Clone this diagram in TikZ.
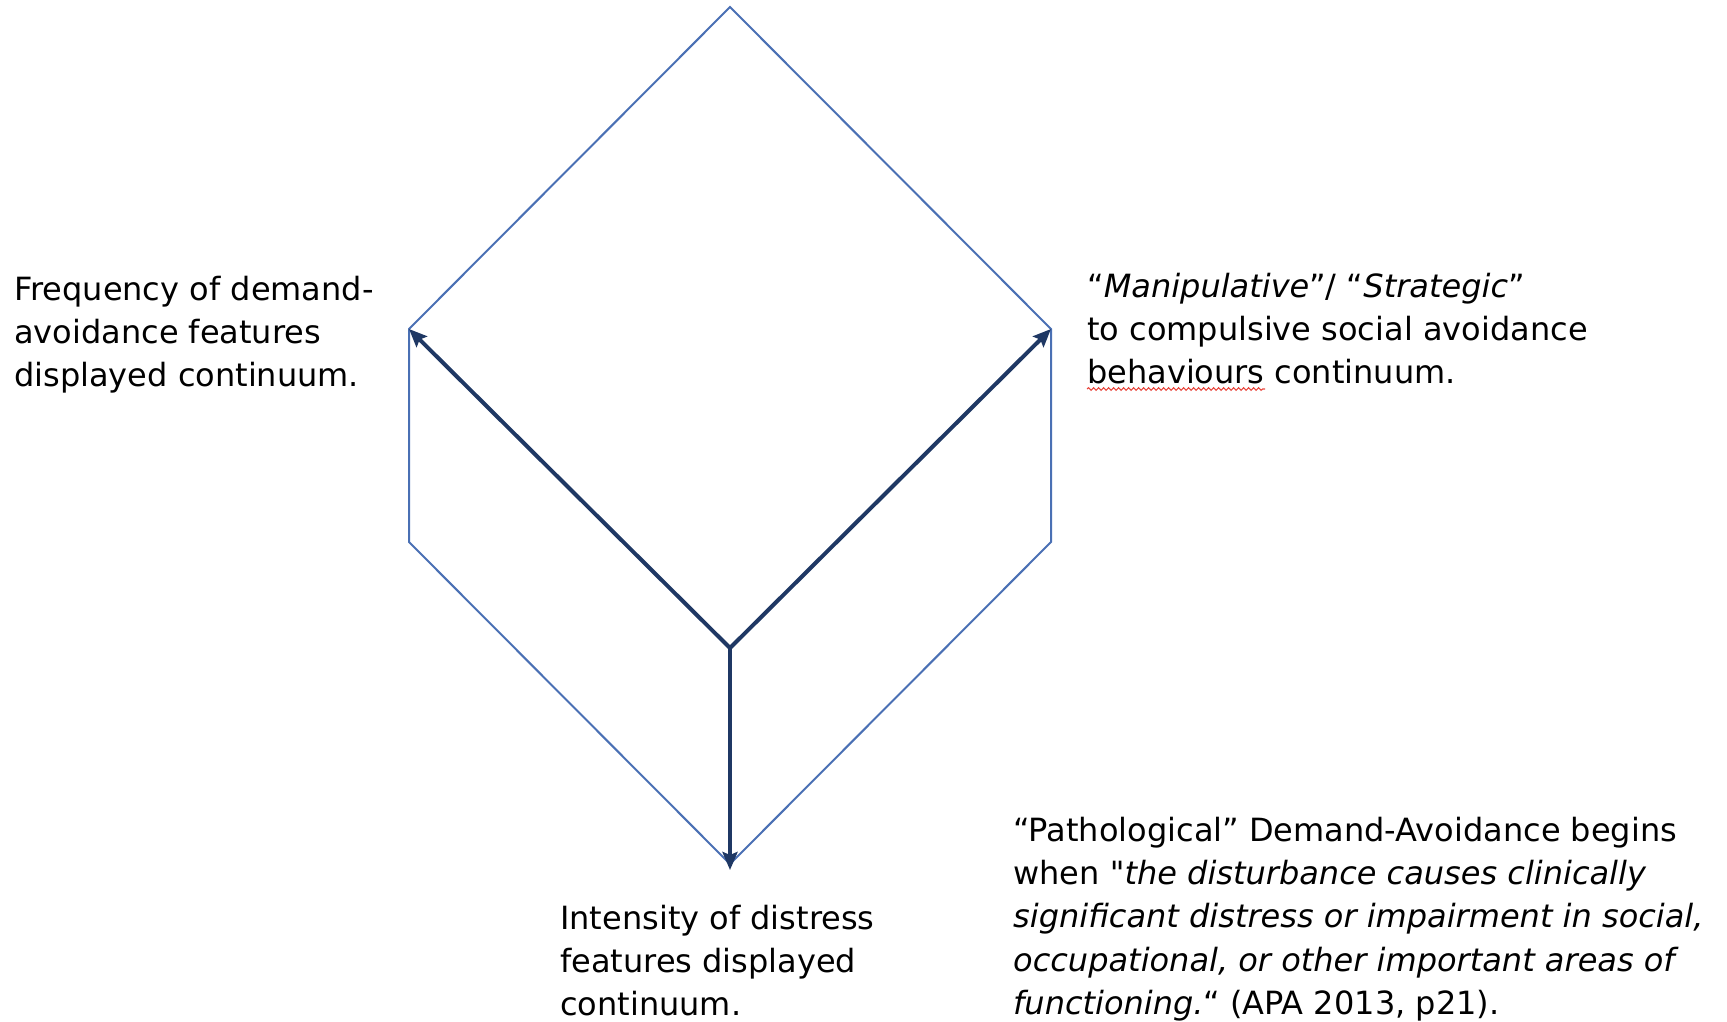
\documentclass[tikz,border=0pt]{standalone}
\usepackage{fontspec}
\setmainfont{DejaVu Sans}[Ligatures=TeXOff]
\usetikzlibrary{arrows.meta,decorations.pathmorphing}
\definecolor{edgeblue}{HTML}{4A70B4}
\definecolor{axisnavy}{HTML}{1F3864}
\definecolor{spellred}{HTML}{E8453C}
\begin{document}
\begin{tikzpicture}[x=1pt,y=-1pt,
  outline/.style={draw=edgeblue,line width=2pt,line join=miter},
  axisarrow/.style={draw=axisnavy,line width=4pt,
    -{Stealth[length=18pt,width=15pt,inset=3pt]}},
  lbl/.style={anchor=base west,inner sep=0pt,text=black,
    font=\fontsize{32}{43}\selectfont}]
\useasboundingbox (0,0) rectangle (1727,1022);
% cube corners
\coordinate (T)  at (730,7);
\coordinate (R)  at (1051,329);
\coordinate (RB) at (1051,542);
\coordinate (B)  at (730,864);
\coordinate (LB) at (409,542);
\coordinate (L)  at (409,329);
\coordinate (C)  at (730,648);
\coordinate (Btip) at (730,870);
% outline of the cube
\draw[outline] (T) -- (R) -- (RB) -- (B) -- (LB) -- (L) -- cycle;
% three axes from the centre
\draw[axisarrow] (C) -- (L);
\draw[axisarrow] (C) -- (R);
\draw[axisarrow] (C) -- (Btip);
% left axis label
\node[lbl] (f1) at (14,300) {Frequency of demand-};
\node[lbl] (f2) at (14,343) {avoidance features};
\node[lbl] (f3) at (14,386) {displayed continuum.};
% right axis label
\node[lbl] (m1) at (1087,297) {“\textit{Manipulative}”/ “\textit{Strategic}”};
\node[lbl] (m2) at (1087,340) {to compulsive social avoidance};
\node[lbl] (m3) at (1087,383) {behaviours continuum.};
\coordinate (w1) at (1087,389);
\coordinate (w2) at (1265,389);
\draw[spellred,line width=1.1pt,decorate,
  decoration={snake,amplitude=1.3pt,segment length=5pt}] (w1) -- (w2);
% bottom axis label
\node[lbl] (i1) at (560,929) {Intensity of distress};
\node[lbl] (i2) at (560,972) {features displayed};
\node[lbl] (i3) at (560,1015) {continuum.};
% definition
\node[lbl] (p1) at (1013,841) {“Pathological” Demand-Avoidance begins};
\node[lbl] (p2) at (1013,884) {when \textit{"the disturbance causes clinically}};
\node[lbl] (p3) at (1013,927) {\textit{significant distress or impairment in social,}};
\node[lbl] (p4) at (1013,971) {\textit{occupational, or other important areas of}};
\node[lbl] (p5) at (1013,1014) {\textit{functioning.}“ (APA 2013, p21).};
\end{tikzpicture}
\end{document}
